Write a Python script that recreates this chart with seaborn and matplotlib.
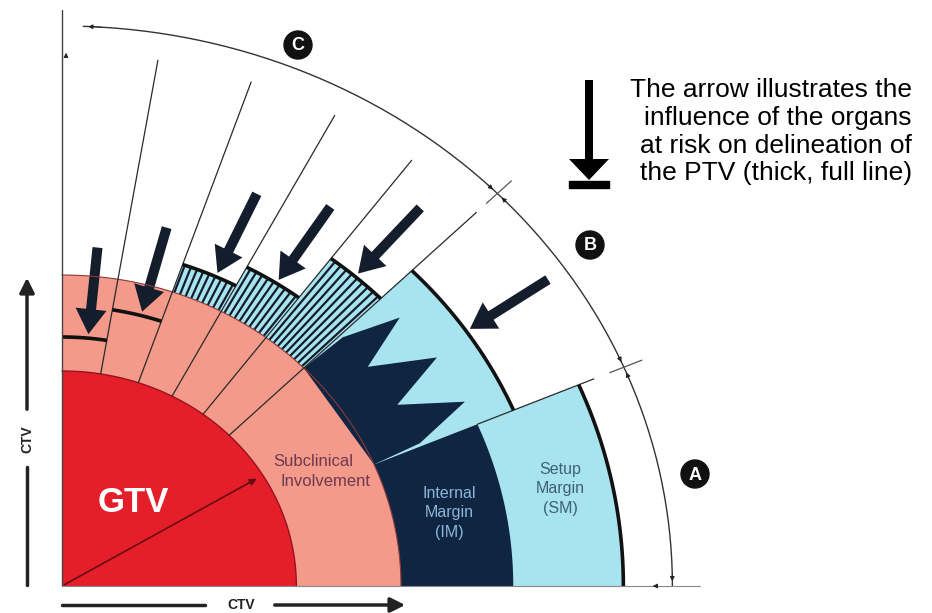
import numpy as np
import matplotlib
matplotlib.use("Agg")
import matplotlib.pyplot as plt
import seaborn as sns
from matplotlib.patches import Polygon, Circle, Rectangle
from matplotlib.collections import LineCollection

# --- diagram values (radii in px, angles in degrees) ---
sector_edges = [90, 80.5, 71, 62, 53, 44.5, 23, 0]
ptv_radius = [249, 280, 340, 361, 410, 450, 515]
hatched_sectors = [2, 3, 4]
gtv_r = 215
ctv_r = 311
im_r = 414
arc_r = 560
oar_angle = [84.5, 75, 65.5, 57, 49, 34.5]
oar_tip_r = [253, 284, 344, 365, 414, 454]
zig_angle = [44.5, 44.0, 40.9, 38.0, 33.6, 30.5, 26.5, 23.5, 23]
zig_r = [311, 358, 410, 356, 413, 357, 413, 358, 311]
dim_ticks = [23, 44.5]
dim_labels = ["A", "B", "C"]
dim_label_pos = [(695, 474), (590, 245), (298, 45)]

RED = "#e41f2a"
PINK = "#f39a8b"
NAVY = "#0f2541"
LBLUE = "#a8e3f0"
INK = "#141d2c"

OX, OY, SX = 62, 586, 1.09


def pt(r, a):
    a = np.radians(a)
    return OX + SX * r * np.cos(a), OY - r * np.sin(a)


def sector(r0, r1, a0, a1, n=80):
    aa = np.linspace(a0, a1, n)
    outer = [pt(r1, a) for a in aa]
    inner = [pt(r0, a) for a in aa[::-1]] if r0 > 0 else [(OX, OY)]
    return outer + inner


def arc(r, a0, a1, n=80):
    return np.array([pt(r, a) for a in np.linspace(a0, a1, n)])


sns.set_theme(style="white")
plt.rcParams["font.family"] = ["Liberation Sans", "DejaVu Sans"]

fig = plt.figure(figsize=(9.32, 6.13), dpi=100)
ax = fig.add_axes([0, 0, 1, 1])
ax.set_xlim(0, 932)
ax.set_ylim(613, 0)
ax.axis("off")

# CTV and GTV
ax.add_patch(Polygon(sector(0, ctv_r, 0, 90), color=PINK, lw=0))
ax.add_patch(Polygon(sector(0, gtv_r, 0, 90), color=RED, lw=0))
ax.plot(*arc(gtv_r, 0, 90).T, color="#9a1020", lw=1)

# hatched PTV regions (organs at risk)
segs = []
for i in hatched_sectors:
    a_hi, a_lo = sector_edges[i], sector_edges[i + 1]
    r1 = ptv_radius[i]
    ax.add_patch(Polygon(sector(ctv_r, r1, a_lo, a_hi), color=LBLUE, lw=0))
    step = np.degrees(6.3 / (SX * (ctv_r + r1) / 2))
    for a in np.arange(a_lo + step / 2, a_hi, step):
        segs.append([pt(ctv_r, a), pt(r1, a)])
ax.add_collection(LineCollection(segs, colors=INK, linewidths=1.6))

# setup margin and internal margin
ax.add_patch(Polygon(sector(ctv_r, ptv_radius[5], sector_edges[6], sector_edges[5]),
                     color=LBLUE, lw=0))
ax.add_patch(Polygon(sector(ctv_r, ptv_radius[6], 0, sector_edges[6]), color=LBLUE, lw=0))
ax.add_patch(Polygon(sector(ctv_r, im_r, 0, sector_edges[6]), color=NAVY, lw=0))
ax.add_patch(Polygon([pt(r, a) for r, a in zip(zig_r, zig_angle)], color=NAVY, lw=0))
ax.plot(*arc(ctv_r, 0, 90).T, color="#8a3a3a", lw=0.8)

# thin radial sector lines
for a in sector_edges[1:6]:
    ax.plot(*np.array([pt(gtv_r, a), pt(533, a)]).T, color="#2a2a2a", lw=0.9)
ax.plot(*np.array([pt(im_r, 23), pt(530, 23)]).T, color="#2a2a2a", lw=0.9)

# PTV thick lines
for i, r in enumerate(ptv_radius):
    ax.plot(*arc(r, sector_edges[i + 1], sector_edges[i]).T, color="#111111", lw=2.6,
            solid_capstyle="butt")

# GTV radius arrow
ax.annotate("", xy=pt(gtv_r - 4, 31), xytext=(OX, OY),
            arrowprops=dict(arrowstyle="-|>", color="#6a0a14", lw=1.2, mutation_scale=10))

# organ-at-risk arrows
for a, rt in zip(oar_angle, oar_tip_r):
    x1, y1 = pt(rt + 87, a)
    x0, y0 = pt(rt, a)
    ax.arrow(x1, y1, x0 - x1, y0 - y1, width=10, head_width=31, head_length=25,
             length_includes_head=True, color=INK, lw=0)

# dimension arc with A/B/C
dim = arc(arc_r, 0, 88, 200)
sns.lineplot(x=dim[:, 0], y=dim[:, 1], sort=False, color="#333333", lw=1, ax=ax)
for a in dim_ticks:
    ax.plot(*np.array([pt(arc_r - 14, a), pt(arc_r + 18, a)]).T, color="#555555", lw=0.9)
for a0, a1 in [(1.5, 0.2), (21.5, 22.7), (24.5, 23.3), (43, 44.2), (46, 44.8), (86, 87.8)]:
    ax.annotate("", xy=pt(arc_r, a1), xytext=pt(arc_r, a0),
                arrowprops=dict(arrowstyle="-|>", color="#222222", lw=0.6, mutation_scale=7))
for lab, (x, y) in zip(dim_labels, dim_label_pos):
    ax.add_patch(Circle((x, y), 14, color="#111111"))
    ax.text(x, y + 1, lab, color="white", fontsize=13, fontweight="bold",
            ha="center", va="center")

# axes of the diagram
ax.plot([OX, OX], [OY, 10], color="#444444", lw=1)
ax.plot([OX, 700], [OY, OY], color="#888888", lw=0.8)
ax.annotate("", xy=(OX + 4, 50), xytext=(OX + 4, 58),
            arrowprops=dict(arrowstyle="-|>", color="#222222", lw=0.6, mutation_scale=7))
ax.annotate("", xy=(650, OY), xytext=(660, OY),
            arrowprops=dict(arrowstyle="-|>", color="#222222", lw=0.6, mutation_scale=7))

# CTV scale arrows
ax.plot([OX, 205], [605, 605], color="#222222", lw=2.5)
ax.annotate("", xy=(408, 605), xytext=(272, 605),
            arrowprops=dict(arrowstyle="-|>", color="#222222", lw=2.5, mutation_scale=22))
ax.text(241, 605, "CTV", fontsize=10, fontweight="bold", color="#222222",
        ha="center", va="center")
ax.plot([27, 27], [585, 467], color="#222222", lw=2.5)
ax.annotate("", xy=(27, 275), xytext=(27, 412),
            arrowprops=dict(arrowstyle="-|>", color="#222222", lw=2.5, mutation_scale=22))
ax.text(27, 439, "CTV", fontsize=10, fontweight="bold", color="#222222",
        ha="center", va="center", rotation=90)

# region labels
ax.text(133, 503, "GTV", color="white", fontsize=25, fontweight="bold",
        ha="center", va="center")
ax.text(313, 462, "Subclinical", color="#6e3a50", fontsize=12, ha="center", va="center")
ax.text(326, 481, "Involvement", color="#6e3a50", fontsize=12, ha="center", va="center")
ax.text(449, 513, "Internal\nMargin\n(IM)", color="#8cb6d8", fontsize=11.5,
        ha="center", va="center", linespacing=1.35)
ax.text(560, 489, "Setup\nMargin\n(SM)", color="#3f6079", fontsize=11.5,
        ha="center", va="center", linespacing=1.35)

# explanatory note
ax.arrow(589, 80, 0, 100, width=8, head_width=40, head_length=21,
         length_includes_head=True, color="black", lw=0)
ax.add_patch(Rectangle((569, 181), 40, 7, color="black"))
ax.text(912, 78, "The arrow illustrates the\ninfluence of the organs\n"
        "at risk on delineation of\nthe PTV (thick, full line)",
        fontsize=19, ha="right", va="top", linespacing=1.2, color="black")

fig.savefig("out.png", dpi=100)
